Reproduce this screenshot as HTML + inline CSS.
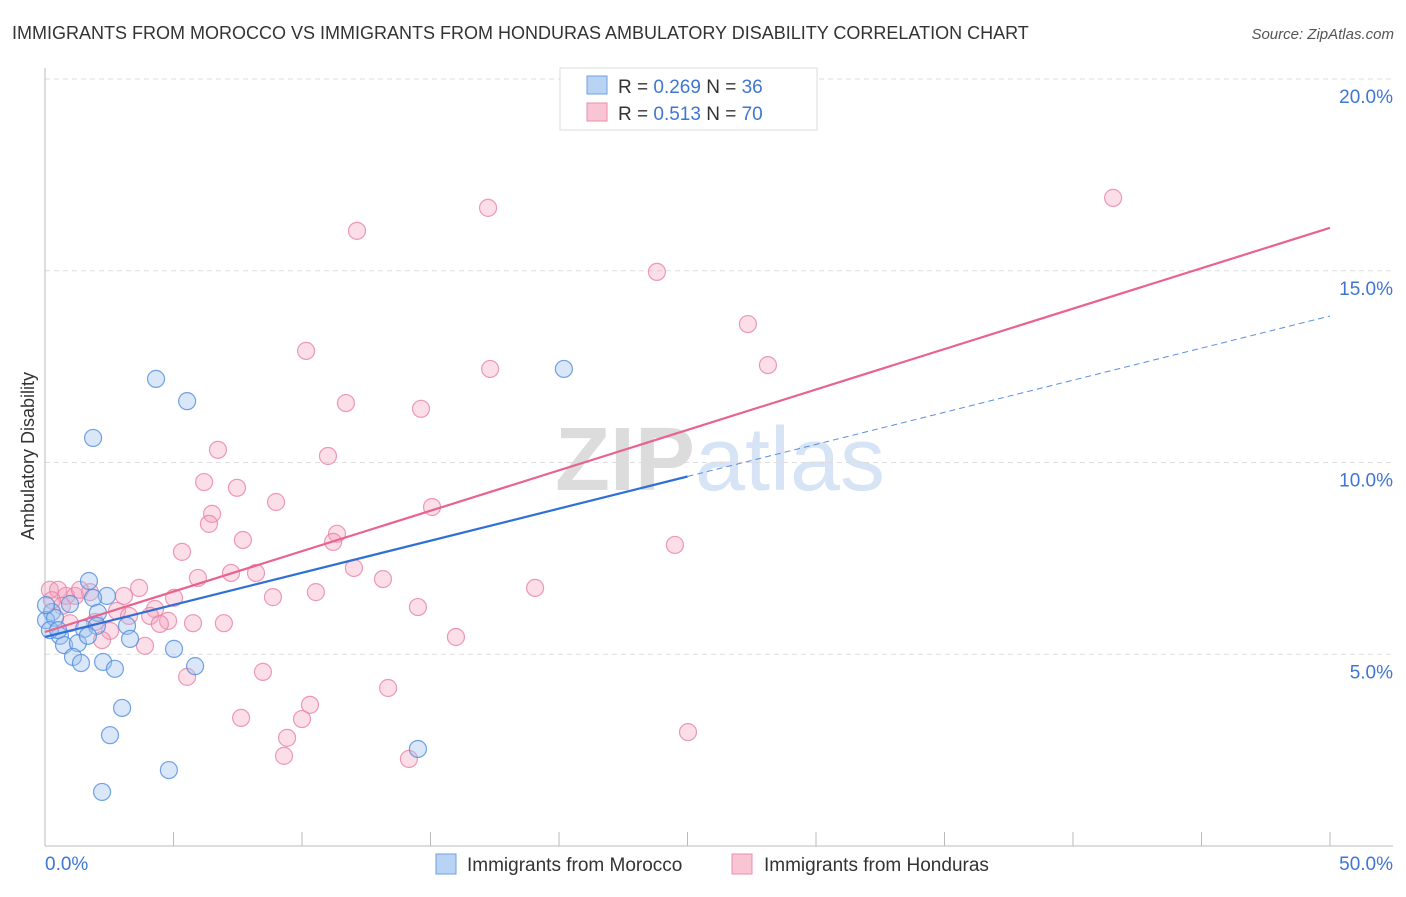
<!DOCTYPE html>
<html><head><meta charset="utf-8"><style>
body{margin:0;background:#fff;font-family:"Liberation Sans",sans-serif}
svg text{font-family:"Liberation Sans",sans-serif}
</style></head><body>
<svg id="c" width="1406" height="892">
<text x="12" y="39" font-size="18" fill="#333">IMMIGRANTS FROM MOROCCO VS IMMIGRANTS FROM HONDURAS AMBULATORY DISABILITY CORRELATION CHART</text>
<text x="1394" y="39" font-size="15" fill="#555" font-style="italic" text-anchor="end">Source: ZipAtlas.com</text>
<text x="720" y="490" font-size="90" fill="#e6e6e6" text-anchor="middle" font-family="Liberation Serif"><tspan font-weight="bold" fill="#dcdcdc">ZIP</tspan><tspan fill="#d6e4f5" font-family="Liberation Sans">atlas</tspan></text>
<text transform="translate(34,456) rotate(-90)" font-size="18" fill="#333" text-anchor="middle">Ambulatory Disability</text>
<g id="grid"></g><g id="axes"></g><g id="pts"></g><g id="lines"></g>
<g>
<rect x="560" y="68" width="257" height="62" fill="#fff" stroke="#ddd"/>
<rect x="587" y="76" width="20" height="18" fill="#b9d3f5" stroke="#6f9fe0"/>
<rect x="587" y="103" width="20" height="18" fill="#f9c5d5" stroke="#eb8fae"/>
<text x="618" y="93" font-size="19" fill="#333">R = <tspan fill="#3f76d4">0.269</tspan>   N = <tspan fill="#3f76d4">36</tspan></text>
<text x="618" y="120" font-size="19" fill="#333">R =  <tspan fill="#3f76d4">0.513</tspan>   N = <tspan fill="#3f76d4">70</tspan></text>
</g>
<g>
<rect x="436" y="854" width="20" height="20" fill="#b9d3f5" stroke="#6f9fe0"/>
<text x="467" y="871" font-size="19" fill="#333">Immigrants from Morocco</text>
<rect x="732" y="854" width="20" height="20" fill="#f9c5d5" stroke="#eb8fae"/>
<text x="764" y="871" font-size="19" fill="#333">Immigrants from Honduras</text>
</g>
</svg>
<script>
const yTicks=[5,10,15,20];
const yTickLabels=["5.0%","10.0%","15.0%","20.0%"];
const xTickLabels=["0.0%","50.0%"];
const moroccoX=[4.32,5.53,1.87,20.19,1.71,2.41,1.87,0.97,2.06,0.27,0.04,0.39,1.52,2.02,3.19,0.58,0.74,1.28,3.31,5.02,1.09,2.26,1.40,2.72,5.84,3.00,2.53,4.82,2.22,14.51,0.04,0.19,0.51,1.67];
const moroccoY=[12.18,11.60,10.64,12.44,6.91,6.52,6.47,6.31,6.08,6.10,5.89,5.95,5.66,5.74,5.74,5.48,5.24,5.29,5.40,5.14,4.93,4.80,4.77,4.62,4.69,3.60,2.89,1.98,1.41,2.53,6.28,5.63,5.63,5.48];
const hondurasX=[41.56,17.24,12.14,23.81,27.35,10.16,17.32,28.13,11.71,14.63,6.73,11.01,7.47,6.19,8.99,15.06,6.50,6.38,7.70,11.36,11.21,5.33,24.51,12.02,7.24,8.21,5.95,13.15,3.66,19.07,10.54,5.02,8.87,3.07,14.51,4.28,2.80,3.27,4.09,4.79,4.47,5.76,6.96,2.53,2.22,3.89,15.99,5.53,8.48,13.35,10.31,7.63,10.00,9.42,9.30,14.16,25.02,0.19,0.51,0.82,1.17,0.66,1.75,1.36,0.27,1.95,0.97];
const hondurasY=[16.90,16.64,16.04,14.97,13.61,12.91,12.44,12.54,11.55,11.40,10.33,10.17,9.34,9.49,8.97,8.84,8.66,8.40,7.98,8.14,7.93,7.67,7.85,7.25,7.12,7.12,6.99,6.96,6.73,6.73,6.62,6.47,6.49,6.52,6.23,6.18,6.13,6.00,6.00,5.87,5.79,5.81,5.81,5.61,5.37,5.22,5.45,4.41,4.54,4.12,3.68,3.34,3.31,2.82,2.35,2.27,2.97,6.68,6.68,6.52,6.52,6.26,6.62,6.68,6.41,5.84,5.81];
const moroccoTrend=[5.45,13.82];
const hondurasTrend=[5.58,16.12];
const moroccoSolidEnd=25;
const NS="http://www.w3.org/2000/svg";
const sx=v=>45+v/50*1285, sy=v=>846-v*38.35;
function mk(p,t,a){const e=document.createElementNS(NS,t);for(const k in a)e.setAttribute(k,a[k]);document.getElementById(p).appendChild(e);return e;}
yTicks.forEach((t,i)=>{
 const g=mk('grid','line',{x1:45,x2:1393,y1:sy(t),y2:sy(t),stroke:'#ddd','stroke-dasharray':'5,4'});
 
 
 const l=mk('grid','text',{x:1393,y:sy(t)+24,'font-size':19,fill:'#3f76d4','text-anchor':'end'});
 l.textContent=yTickLabels[i];
 
 
});
mk('axes','line',{x1:45,x2:45,y1:68,y2:846,stroke:'#bbb'});
const xa=mk('axes','line',{x1:45,x2:1393,y1:846,y2:846,stroke:'#bbb'});


for(let v=5;v<=50;v+=5){const t=mk('axes','line',{x1:sx(v),x2:sx(v),y1:832,y2:846,stroke:'#bbb'});
 
 }
[[0,'start',45],[50,'end',1393]].forEach((d,i)=>{const l=mk('axes','text',{x:d[2],y:870,'font-size':19,fill:'#3f76d4','text-anchor':d[1]});
 l.textContent=xTickLabels[i];
 
 });
hondurasX.forEach((x,i)=>{const c=mk('pts','circle',{cx:sx(x),cy:sy(hondurasY[i]),r:8.5,fill:'rgba(244,160,188,0.35)',stroke:'rgba(232,130,165,0.8)','stroke-width':1.2});
 
 });
moroccoX.forEach((x,i)=>{const c=mk('pts','circle',{cx:sx(x),cy:sy(moroccoY[i]),r:8.5,fill:'rgba(160,196,240,0.4)',stroke:'rgba(80,140,220,0.8)','stroke-width':1.2});
 
 });
const mAt=x=>moroccoTrend[0]+(moroccoTrend[1]-moroccoTrend[0])*x/50;
const hl=mk('lines','line',{x1:sx(0),y1:sy(hondurasTrend[0]),x2:sx(50),y2:sy(hondurasTrend[1]),stroke:'#e8638e','stroke-width':2.2});


const ml=mk('lines','line',{x1:sx(0),y1:sy(mAt(0)),x2:sx(moroccoSolidEnd),y2:sy(mAt(moroccoSolidEnd)),stroke:'#2f6fd6','stroke-width':2.2});


const md=mk('lines','line',{x1:sx(moroccoSolidEnd),y1:sy(mAt(moroccoSolidEnd)),x2:sx(50),y2:sy(mAt(50)),stroke:'#5b8fe0','stroke-width':1,'stroke-dasharray':'6,4'});


</script>
</body></html>
